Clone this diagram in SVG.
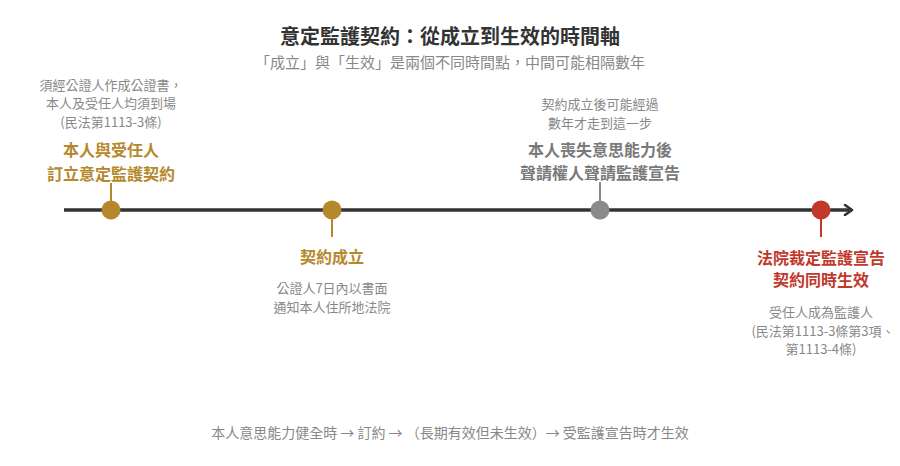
<svg xmlns="http://www.w3.org/2000/svg" width="900" height="466" viewBox="0 0 900 466">
<defs>
<style>
text{font-family:"Noto Sans CJK TC","Noto Sans CJK SC","Noto Sans",sans-serif;text-anchor:middle}
.title{font-size:20px;font-weight:700;fill:#333}
.sub{font-size:15px;fill:#888}
.note{font-size:13px;fill:#888}
.lbl{font-size:16px;font-weight:700}
.gold{fill:#b5882b}
.grey{fill:#7a7a7a}
.red{fill:#c0392b}
.foot{font-size:14px;fill:#888}
</style>
<marker id="arr" viewBox="0 0 12 12" refX="9" refY="6" markerWidth="12" markerHeight="12" markerUnits="userSpaceOnUse" orient="auto">
<path d="M2,1 L9,6 L2,11" fill="none" stroke="#333" stroke-width="2.6" stroke-linecap="round" stroke-linejoin="round"/>
</marker>
</defs>
<rect width="900" height="466" fill="#fff"/>
<text class="title" x="450" y="44">意定監護契約：從成立到生效的時間軸</text>
<text class="sub" x="450" y="68">「成立」與「生效」是兩個不同時間點，中間可能相隔數年</text>
<g id="connectors">
<line x1="64" y1="210" x2="852" y2="210" stroke="#333" stroke-width="3.5" marker-end="url(#arr)"/>
<line x1="111" y1="183" x2="111" y2="205" stroke="#b5882b" stroke-width="2"/>
<line x1="332" y1="215" x2="332" y2="237" stroke="#b5882b" stroke-width="2"/>
<line x1="600" y1="182" x2="600" y2="205" stroke="#8a8a8a" stroke-width="2"/>
<line x1="821" y1="215" x2="821" y2="237" stroke="#c0392b" stroke-width="2"/>
</g>
<g id="node-sign">
<circle cx="111" cy="210" r="9.5" fill="#b5882b"/>
<text class="note" x="111" y="90">須經公證人作成公證書，</text>
<text class="note" x="111" y="108">本人及受任人均須到場</text>
<text class="note" x="111" y="127">(民法第1113-3條)</text>
<text class="lbl gold" x="111" y="156">本人與受任人</text>
<text class="lbl gold" x="111" y="180">訂立意定監護契約</text>
</g>
<g id="node-formed">
<circle cx="332" cy="210" r="9.5" fill="#b5882b"/>
<text class="lbl gold" x="332" y="263">契約成立</text>
<text class="note" x="332" y="293">公證人7日內以書面</text>
<text class="note" x="332" y="312">通知本人住所地法院</text>
</g>
<g id="node-incapacity">
<circle cx="600" cy="210" r="9.5" fill="#8a8a8a"/>
<text class="note" x="600" y="109">契約成立後可能經過</text>
<text class="note" x="600" y="128">數年才走到這一步</text>
<text class="lbl grey" x="600" y="156">本人喪失意思能力後</text>
<text class="lbl grey" x="600" y="179">聲請權人聲請監護宣告</text>
</g>
<g id="node-effective">
<circle cx="821" cy="210" r="9.5" fill="#c0392b"/>
<text class="lbl red" x="821" y="264">法院裁定監護宣告</text>
<text class="lbl red" x="821" y="286">契約同時生效</text>
<text class="note" x="821" y="317">受任人成為監護人</text>
<text class="note" x="823" y="336">(民法第1113-3條第3項、</text>
<text class="note" x="821" y="354">第1113-4條)</text>
</g>
<text class="foot" x="450" y="438">本人意思能力健全時 → 訂約 → （長期有效但未生效）→ 受監護宣告時才生效</text>
</svg>
